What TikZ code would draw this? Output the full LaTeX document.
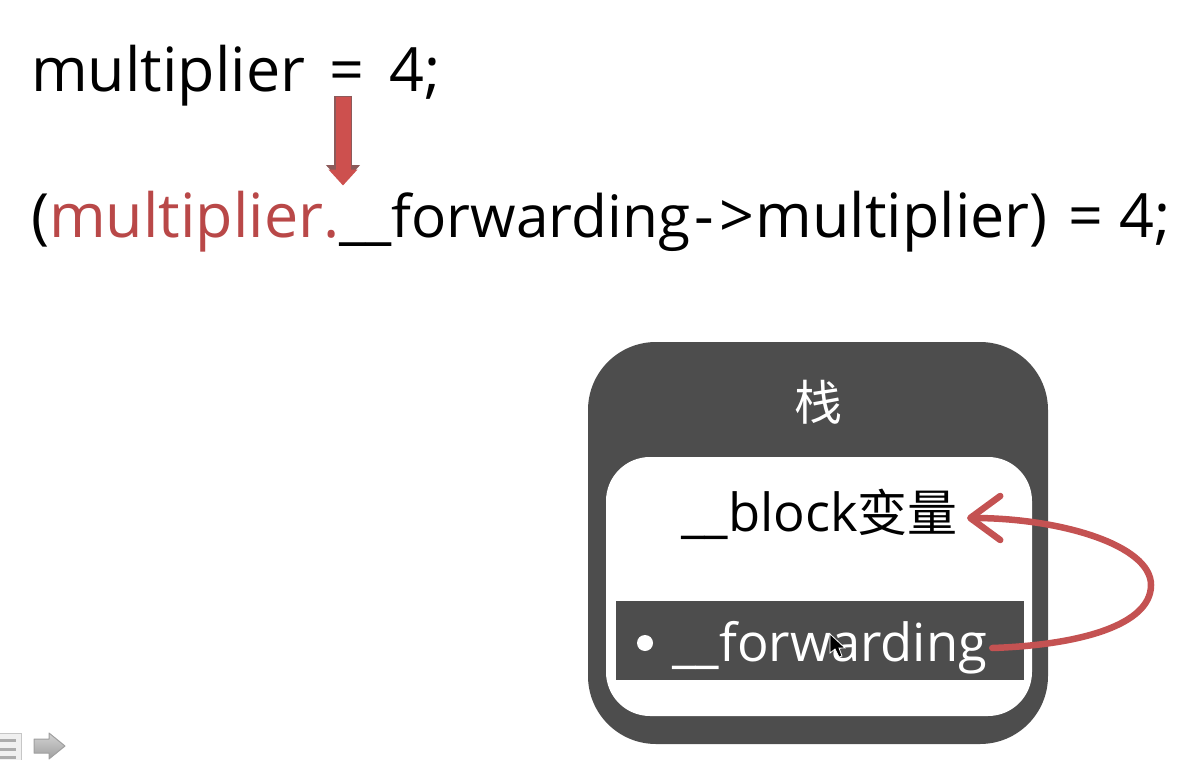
\documentclass[tikz,border=0pt]{standalone}
\usepackage{fontspec}
\setmainfont{Open Sans}
\newfontfamily\cjk{Noto Sans CJK SC}
\usetikzlibrary{arrows.meta}
\definecolor{stackgray}{RGB}{77,77,77}
\definecolor{redtext}{RGB}{185,72,72}
\definecolor{redline}{RGB}{196,82,82}
\definecolor{redfill}{RGB}{205,80,78}
\definecolor{rededge}{RGB}{140,90,90}
\tikzstyle{code} = [anchor=base west, inner sep=0pt, font=\fontsize{61}{61}\selectfont]
\tikzstyle{stackbox} = [rectangle, rounded corners=68pt, minimum width=460pt, minimum height=402pt, fill=stackgray]
\tikzstyle{innerbox} = [rectangle, rounded corners=44pt, minimum width=426pt, minimum height=259pt, fill=white]
\tikzstyle{fieldbar} = [rectangle, minimum width=408pt, minimum height=79pt, fill=stackgray]
\tikzstyle{label} = [anchor=base west, inner sep=0pt, font=\fontsize{52.5}{52.5}\selectfont]
\tikzstyle{arrow} = [line width=6.5pt, draw=redline, line cap=round, -{Straight Barb[length=30pt,width=44pt,line width=6.5pt,round]}]
\begin{document}
\begin{tikzpicture}[x=1pt,y=-1pt]
\useasboundingbox (0,0) rectangle (1200,760);
\node (assign) [code] at (31,92) {multiplier\hspace{9pt} = \hspace{9pt}4;};
\node (rewrite) [code] at (31,237) {(\textcolor{redtext}{multiplier.}{\fontsize{58.5}{58.5}\selectfont\_\_forwarding}\hspace{4pt}-\hspace{6pt}>\hspace{1pt}multiplier)\hspace{5pt} = 4;};
% block arrow between the two lines
\coordinate (downtop) at (343,96);
\coordinate (downtip) at (343,184);
\draw[line width=17.5pt, draw=rededge, -{Triangle[length=19pt,width=33pt]}] (downtop) -- (downtip);
\draw[line width=15pt, draw=redfill, -{Triangle[length=16pt,width=28pt]}] ([yshift=-1pt]downtop) -- ([yshift=-1.5pt]downtip);
% stack frame
\node (stack) [stackbox] at (818,543) {};
\node (stacktitle) [white, font=\cjk\fontsize{48}{48}\selectfont] at (818,402) {栈};
\node (inner) [innerbox] at (819,586.5) {};
\node (forwardbar) [fieldbar] at (820,640.5) {};
\node (blockvar) [label] at (681,531) {\_\_block{\cjk\fontsize{50}{50}\selectfont 变量}};
\node (bullet) [circle, fill=white, inner sep=0pt, minimum size=16pt] at (645,643) {};
\node (forwarding) [label, white] at (672,661) {\_\_forwarding};
% mouse cursor
\draw[fill=black, draw=white, line width=.8pt] (830,634) -- (830,653) -- (835,649) -- (839,657) -- (842,656) -- (839,648) -- (845,648) -- cycle;
% curved connector
\coordinate (bendright) at (1151,585);
\draw[arrow] (forwarding.east |- 0,648) ++(5,0) coordinate (fwdstart)
  .. controls (1080,645) and (1151,625) .. (bendright)
  .. controls (1151,545) and (1060,518) .. (967,518);
% slide controls, bottom left
\draw[fill=gray!12, draw=gray!45, line width=1pt] (-6,733) rectangle (21,766);
\foreach \yy in {740,749,757}
  \draw[gray!65, line width=3pt] (-6,\yy) -- (16,\yy);
\draw[top color=gray!35, bottom color=gray!75, draw=gray!75, line width=1pt, line join=round]
  (34,739) -- (49,739) -- (49,733) -- (65,746) -- (49,759) -- (49,753) -- (34,753) -- cycle;
\end{tikzpicture}
\end{document}
